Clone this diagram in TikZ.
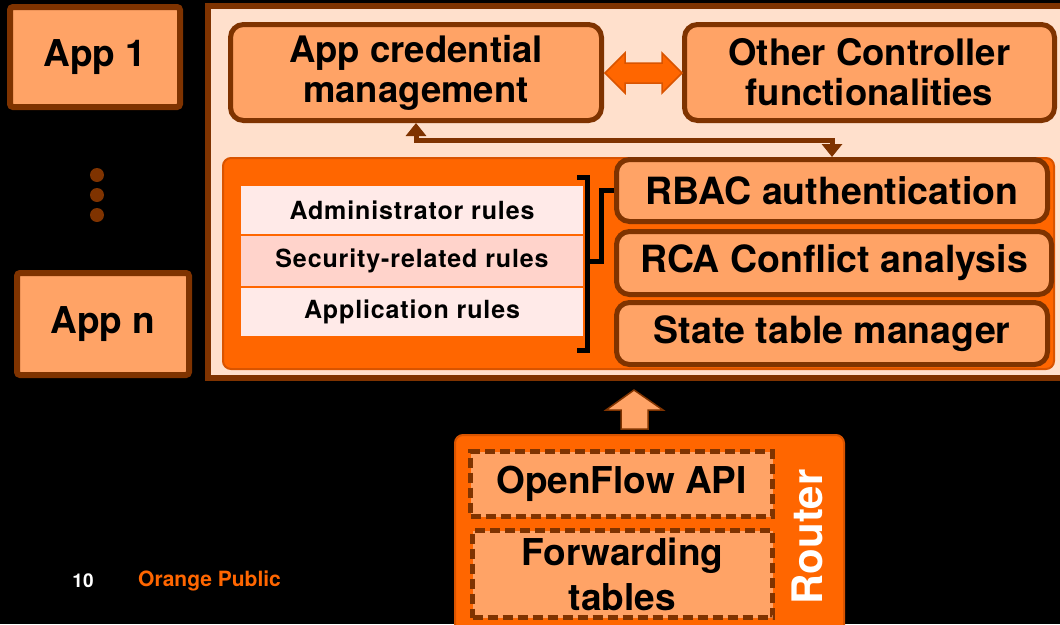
\documentclass[tikz,border=0pt]{standalone}
\usepackage{fontspec}
\setmainfont{TeX Gyre Heros}
\usetikzlibrary{arrows.meta}
\definecolor{brn}{HTML}{7F3300}
\definecolor{lor}{HTML}{FFA366}
\definecolor{org}{HTML}{FF6600}
\definecolor{dor}{HTML}{D95400}
\definecolor{peach}{HTML}{FFE0CC}
\definecolor{rowa}{HTML}{FFEAE8}
\definecolor{rowb}{HTML}{FFD3CB}
\tikzset{
  appbox/.style={draw=brn, line width=6pt, fill=lor, rounded corners=3pt, inner sep=0pt,
    font=\bfseries\fontsize{37}{41}\selectfont, align=center},
  fbox/.style={draw=brn, line width=5pt, fill=lor, rounded corners=13pt, inner sep=0pt,
    font=\bfseries\fontsize{37.5}{41}\selectfont, align=center},
  topbox/.style={fbox, font=\bfseries\fontsize{36.5}{40}\selectfont},
  rulerow/.style={draw=org, line width=2pt, inner sep=0pt, minimum width=344pt,
    font=\bfseries\fontsize{25}{28}\selectfont\addfontfeatures{LetterSpace=3.5}},
  dashbox/.style={draw=brn, line width=5pt, dash pattern=on 10pt off 5pt, fill=lor, inner sep=0pt,
    font=\bfseries\fontsize{37}{45}\selectfont, align=center},
  conn/.style={draw=brn, line width=5pt, {Triangle[length=13pt,width=20pt]}-{Triangle[length=13pt,width=20pt]}},
  brk/.style={draw=black, line width=5pt},
}
\begin{document}
\begin{tikzpicture}[x=1pt,y=-1pt]
\useasboundingbox (0,0) rectangle (1060,624);
\fill[black] (0,0) rectangle (1060,624);

% apps
\node[appbox, minimum width=170pt, minimum height=100pt] (app1) at (95,57) {App 1};
\node[appbox, minimum width=172pt, minimum height=102pt] (appn) at (103,324) {App n};
\foreach \yy in {175,195,215} \fill[brn] (97,\yy) circle (7pt);

% controller
\node[draw=brn, line width=6pt, fill=peach, minimum width=880pt, minimum height=372pt, inner sep=0pt] (ctrl) at (648,192) {};

\node[topbox, minimum width=371pt, minimum height=96pt] (appcred) at (416,72.5) {App credential\\management};
\node[topbox, minimum width=370pt, minimum height=96pt] (other) at (869.5,72.5) {Other Controller\\functionalities};

\draw[fill=org, draw=dor, line width=1.5pt]
  (605,73) -- (625,53) -- (625,63) -- (662,63) -- (662,53) -- (682,73)
  -- (662,93) -- (662,83) -- (625,83) -- (625,93) -- cycle;

% inner orange block
\node[draw=dor, line width=2pt, fill=org, rounded corners=8pt, minimum width=831pt, minimum height=211pt, inner sep=0pt] (inner) at (638.5,263.5) {};

\node[rulerow, fill=rowa, minimum height=50pt] (admin) at (412,210) {Administrator rules};
\node[rulerow, fill=rowb, minimum height=52pt] (sec) at (412,261) {Security-related rules};
\node[rulerow, fill=rowa, minimum height=50pt] (apprules) at (412,312) {Application rules};

\node[fbox, minimum width=431pt, minimum height=62pt] (rbac) at (832,190.5) {RBAC authentication};
\node[fbox, minimum width=435pt, minimum height=63pt] (rca) at (834,263) {RCA Conflict analysis};
\node[fbox, minimum width=431pt, minimum height=62pt] (state) at (832,333.5) {State table manager};

% bracket
\draw[brk] (577,177) -- (587,177) -- (587,350) -- (577,350);
\coordinate (brmid) at (587,261);
\draw[brk] (brmid) -- (601,261) |- (rbac.west);

% connector
\draw[conn] (appcred.south) -- ++(0,17) -| (rbac.north);

% up arrow
\draw[fill=lor, draw=brn, line width=1.5pt]
  (634,390) -- (663,410) -- (648,410) -- (648,429) -- (621,429) -- (621,410) -- (606,410) -- cycle;

% router
\node[draw=dor, line width=2pt, fill=org, rounded corners=8pt, minimum width=389pt, minimum height=205pt, inner sep=0pt] (router) at (649.5,537.5) {};
\node[dashbox, minimum width=302pt, minimum height=65pt] (ofapi) at (621.5,484) {OpenFlow API};
\node[dashbox, minimum width=300pt, minimum height=87pt] (fwd) at (622.5,574) {Forwarding\\tables};
\node[rotate=90, text=white, font=\bfseries\fontsize{42}{46}\selectfont, inner sep=0pt] (rlabel) at (807,537) {Router};

% footer
\node[text=white, font=\bfseries\fontsize{19}{22}\selectfont, inner sep=0pt] (pnum) at (83,581) {10};
\node[text=org, font=\bfseries\fontsize{21}{23}\selectfont, inner sep=0pt, anchor=west] (pub) at (138,581) {Orange Public};
\end{tikzpicture}
\end{document}
